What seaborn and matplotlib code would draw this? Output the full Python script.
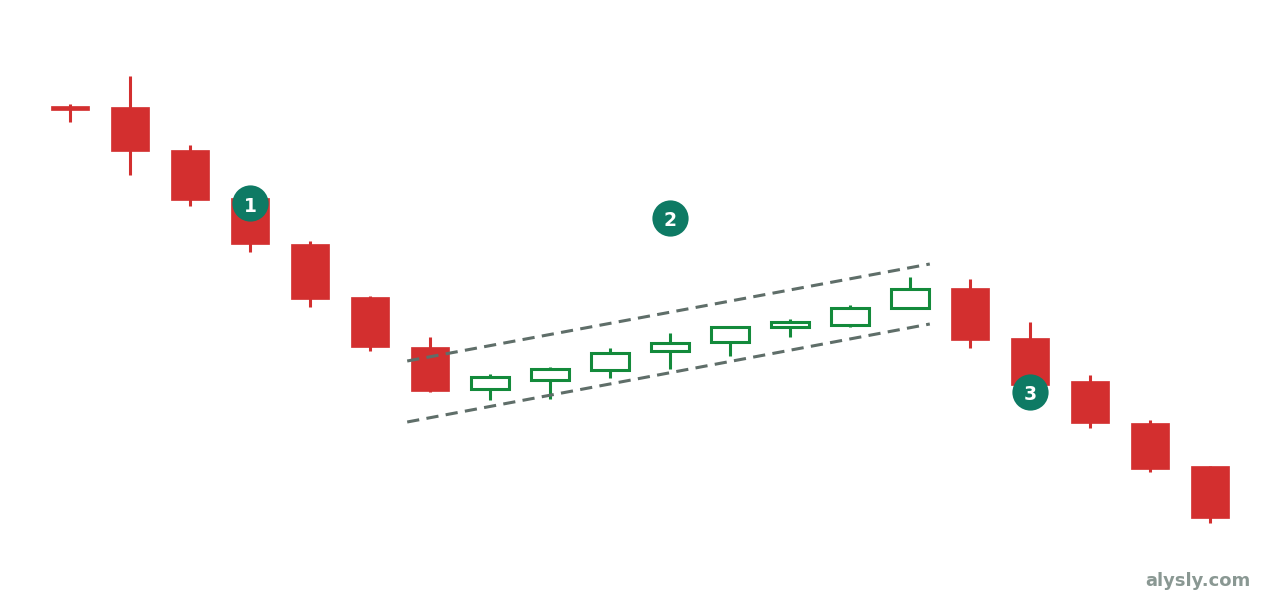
import numpy as np
import pandas as pd
import matplotlib
matplotlib.use("Agg")
import matplotlib.pyplot as plt
import seaborn as sns
from matplotlib.patches import Rectangle

# --- Candle data (price units) ---
opens = [49.4, 49.3, 45.0, 40.2, 35.6, 30.3, 25.3,
         21.1, 22.0, 23.0, 24.9, 25.8, 27.3, 27.5, 29.2,
         31.2, 26.2, 21.9, 17.7, 13.4]
highs = [49.6, 52.4, 45.5, 40.2, 35.9, 30.4, 26.3,
         22.6, 23.3, 25.2, 26.7, 27.4, 28.1, 29.5, 32.3,
         32.1, 27.8, 22.5, 18.0, 13.4]
lows = [47.8, 42.5, 39.4, 34.8, 29.3, 24.9, 20.8,
        20.0, 20.1, 22.2, 23.1, 24.4, 26.3, 27.3, 29.2,
        25.2, 21.5, 17.2, 12.8, 7.7]
closes = [49.0, 44.9, 40.0, 35.6, 30.1, 25.3, 20.9,
          22.3, 23.1, 24.7, 25.7, 27.3, 27.8, 29.2, 31.1,
          26.0, 21.5, 17.7, 13.1, 8.2]

# --- Trend channel (start / end) ---
channel_x = [5.62, 14.33]
channel_upper = [23.9, 33.6]
channel_lower = [17.8, 27.6]

# --- Numbered markers ---
marker_x = [3, 10, 16]
marker_y = [39.7, 38.2, 20.8]
marker_labels = ["1", "2", "3"]

RED = "#d32f2f"
GREEN = "#138a3b"
TEAL = "#0e7a64"
DASH = "#5f6e69"

df = pd.DataFrame({"open": opens, "high": highs, "low": lows, "close": closes})
df["idx"] = np.arange(len(df))

sns.set_theme(style="white")

fig = plt.figure(figsize=(12.8, 6), dpi=100)
ax = fig.add_axes([0, 0, 1, 1])

body_w = 0.633
for _, row in df.iterrows():
    i = row["idx"]
    bull = row["close"] > row["open"]
    top = max(row["open"], row["close"])
    bot = min(row["open"], row["close"])
    color = GREEN if bull else RED
    ax.vlines(i, row["low"], row["high"], color=color, lw=2.2, zorder=2)
    if bull:
        rect = Rectangle((i - body_w / 2, bot), body_w, top - bot,
                         facecolor="white", edgecolor=color, lw=2.2, zorder=3)
    else:
        rect = Rectangle((i - body_w / 2, bot), body_w, max(top - bot, 0.35),
                         facecolor=color, edgecolor=color, lw=0.5, zorder=3)
    ax.add_patch(rect)

# --- Channel lines ---
sns.lineplot(x=channel_x, y=channel_upper, ax=ax, color=DASH, lw=2.2,
             linestyle=(0, (4, 2.4)), zorder=4)
sns.lineplot(x=channel_x, y=channel_lower, ax=ax, color=DASH, lw=2.2,
             linestyle=(0, (4, 2.4)), zorder=4)

# --- Markers ---
ax.scatter(marker_x, marker_y, s=680, color=TEAL, zorder=5, linewidths=0)
for x, y, lab in zip(marker_x, marker_y, marker_labels):
    ax.text(x, y - 0.1, lab, ha="center", va="center_baseline", color="white",
            fontsize=13.5, fontweight="bold", zorder=6)

ax.text(1251 / 1280, 10 / 600, "alysly.com", transform=ax.transAxes,
        ha="right", va="bottom", color="#8a9893", fontsize=13,
        fontweight="bold")

ax.set_xlim(-70 / 60, 1210 / 60)
ax.set_ylim(0, 60)
ax.axis("off")

fig.savefig("out.png", dpi=100, facecolor="white")
